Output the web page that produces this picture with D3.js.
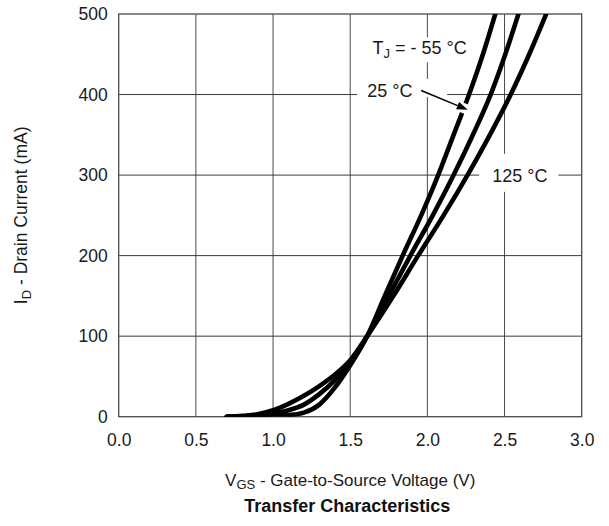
<!DOCTYPE html>
<html>
<head>
<meta charset="utf-8">
<script src="https://cdn.jsdelivr.net/npm/d3@7/dist/d3.min.js"></script>
<style>
  html, body { margin: 0; padding: 0; background: #fff; }
  svg { display: block; font-family: "Liberation Sans", Arial, Helvetica, sans-serif; }
</style>
</head>
<body>
<svg id="chart" width="609" height="526"></svg>
<script>
// Axis ticks
const xTicks = [0.0, 0.5, 1.0, 1.5, 2.0, 2.5, 3.0];
const yTicks = [0, 100, 200, 300, 400, 500];

// Transfer curves: gate-source voltage (V) vs drain current (mA)
const vgsM55 = [0.70, 0.80, 0.90, 1.00, 1.10, 1.20, 1.30, 1.40, 1.50, 1.61, 1.72, 1.84, 1.96, 2.07, 2.17, 2.27, 2.36, 2.44];
const idM55  = [0, 0, 0.5, 1, 2, 5, 15, 36, 64, 100, 148, 200, 250, 300, 350, 400, 450, 500];

const vgs25 = [0.70, 0.80, 0.90, 1.00, 1.10, 1.20, 1.30, 1.40, 1.50, 1.61, 1.75, 1.89, 2.035, 2.17, 2.295, 2.41, 2.505, 2.59];
const id25  = [0, 0.5, 1.5, 4, 8, 15, 28, 45, 68, 100, 150, 200, 250, 300, 350, 400, 450, 500];

const vgs125 = [0.70, 0.80, 0.90, 1.00, 1.10, 1.20, 1.30, 1.40, 1.50, 1.61, 1.78, 1.94, 2.105, 2.26, 2.405, 2.54, 2.66, 2.77];
const id125  = [0, 1, 3, 8, 16, 26, 38, 52, 70, 100, 150, 200, 250, 300, 350, 400, 450, 500];

// Curve labels, anchored in data units [V, mA]
const labelTj   = { pos: [1.645, 450], sub: "J" };
const label25   = { text: "25 °C", pos: [1.61, 400] };
const label125  = { text: "125 °C", pos: [2.42, 292] };
const arrow25   = [[1.96, 405], [2.262, 381]];

const svg = d3.select("#chart");
const W = 609, H = 526;
const margin = { left: 118.7, right: W - 581.7, top: 14, bottom: H - 416.7 };

const x = d3.scaleLinear().domain([0, 3]).range([margin.left, W - margin.right]);
const y = d3.scaleLinear().domain([0, 500]).range([H - margin.bottom, margin.top]);

const textColor = "#1a1a1a";
const gridColor = "#3a3a3a";

// Grid
const grid = svg.append("g");
grid.selectAll("line.v").data(xTicks.filter(d => d > 0 && d < 3)).join("line")
  .attr("x1", d => x(d)).attr("x2", d => x(d))
  .attr("y1", y(500)).attr("y2", y(0))
  .attr("stroke", "#4a4a4a").attr("stroke-width", 1);
grid.selectAll("line.h").data(yTicks.filter(d => d > 0 && d < 500)).join("line")
  .attr("x1", x(0)).attr("x2", x(3))
  .attr("y1", d => y(d)).attr("y2", d => y(d))
  .attr("stroke", gridColor).attr("stroke-width", 1);

// Frame
svg.append("rect")
  .attr("x", x(0)).attr("y", y(500))
  .attr("width", x(3) - x(0)).attr("height", y(0) - y(500))
  .attr("fill", "none").attr("stroke", "#4a4a4a").attr("stroke-width", 1.3);

// Axes (labels only)
const fmtX = d3.format(".1f");
const xAxis = svg.append("g").attr("transform", `translate(0,${y(0)})`)
  .call(d3.axisBottom(x).tickValues(xTicks).tickFormat(fmtX).tickSize(0).tickPadding(17));
const yAxis = svg.append("g").attr("transform", `translate(${x(0)},0)`)
  .call(d3.axisLeft(y).tickValues(yTicks).tickFormat(d3.format("d")).tickSize(0).tickPadding(11));
[xAxis, yAxis].forEach(a => {
  a.select(".domain").remove();
  a.selectAll("text").attr("font-size", 17.5).attr("fill", textColor)
    .attr("font-family", "'Liberation Sans', Arial, sans-serif");
});

// Labels
const labels = svg.append("g");

const series = [
  { v: vgsM55, i: idM55 },
  { v: vgs25, i: id25 },
  { v: vgs125, i: id125 }
];

svg.append("clipPath").attr("id", "plotClip")
  .append("rect").attr("x", x(0)).attr("y", y(500))
  .attr("width", x(3) - x(0)).attr("height", y(0) - y(500));

const line = d3.line().x(d => x(d[0])).y(d => y(d[1])).curve(d3.curveMonotoneX);

// T_J label
const tj = labels.append("text")
  .attr("x", x(labelTj.pos[0])).attr("y", y(labelTj.pos[1]))
  .attr("font-size", 18).attr("fill", textColor);
tj.append("tspan").text("T");
tj.append("tspan").attr("font-size", 13).attr("dy", 4).text(labelTj.sub);
tj.append("tspan").attr("dy", -4).text(" = - 55 °C");

// 25 °C label
const t25 = labels.append("text")
  .attr("x", x(label25.pos[0])).attr("y", y(label25.pos[1]) + 2.4)
  .attr("font-size", 18).attr("fill", textColor).text(label25.text);

// 125 °C label
const t125 = labels.append("text")
  .attr("x", x(label125.pos[0])).attr("y", y(label125.pos[1]) + 0.3)
  .attr("font-size", 18).attr("fill", textColor).text(label125.text);

// White cut-outs in the grid behind the labels
{
  const b = tj.node().getBBox();
  labels.insert("rect", "text").attr("x", b.x - 5).attr("y", b.y - 1)
    .attr("width", b.width + 10).attr("height", b.height + 2).attr("fill", "#fff");
  const b2 = t25.node().getBBox();
  labels.insert("rect", "text").attr("x", b2.x - 10).attr("y", b2.y - 2)
    .attr("width", x(arrow25[0][0]) + 26 - (b2.x - 10)).attr("height", b2.height - 2).attr("fill", "#fff");
  const b3 = t125.node().getBBox();
  labels.insert("rect", "text").attr("x", b3.x - 13).attr("y", b3.y - 12)
    .attr("width", b3.width + 24).attr("height", b3.height + 18).attr("fill", "#fff");
}

// Curves drawn above the label cut-outs
svg.append("g").attr("clip-path", "url(#plotClip)")
  .selectAll("path").data(series).join("path")
  .attr("d", s => line(s.v.map((v, k) => [v, s.i[k]])))
  .attr("fill", "none").attr("stroke", "#000")
  .attr("stroke-width", 4.6).attr("stroke-linejoin", "round").attr("stroke-linecap", "round");

// Arrow pointing at the 25 °C curve, with a white halo where it crosses
const [a0, a1] = arrow25.map(p => [x(p[0]), y(p[1])]);
const ang = Math.atan2(a1[1] - a0[1], a1[0] - a0[0]);
const haloStart = [a1[0] - 22 * Math.cos(ang), a1[1] - 22 * Math.sin(ang)];
svg.append("line")
  .attr("x1", haloStart[0]).attr("y1", haloStart[1])
  .attr("x2", a1[0] + 2 * Math.cos(ang)).attr("y2", a1[1] + 2 * Math.sin(ang))
  .attr("stroke", "#fff").attr("stroke-width", 10);
const headLen = 11, headW = 4;
const base = [a1[0] - headLen * Math.cos(ang), a1[1] - headLen * Math.sin(ang)];
svg.append("line")
  .attr("x1", a0[0]).attr("y1", a0[1]).attr("x2", base[0]).attr("y2", base[1])
  .attr("stroke", "#000").attr("stroke-width", 1.6);
svg.append("path")
  .attr("d", d3.line()([
    a1,
    [base[0] + headW * Math.sin(ang), base[1] - headW * Math.cos(ang)],
    [base[0] - headW * Math.sin(ang), base[1] + headW * Math.cos(ang)]
  ]) + "Z")
  .attr("fill", "#000");

// Axis titles
const xt = svg.append("text")
  .attr("x", (x(0) + x(3)) / 2).attr("y", 486)
  .attr("text-anchor", "middle").attr("font-size", 17).attr("fill", textColor);
xt.append("tspan").text("V");
xt.append("tspan").attr("font-size", 13).attr("dy", 3).text("GS");
xt.append("tspan").attr("dy", -3).text(" - Gate-to-Source Voltage (V)");

const yt = svg.append("text")
  .attr("transform", `translate(27,${(y(0) + y(500)) / 2}) rotate(-90)`)
  .attr("text-anchor", "middle").attr("font-size", 17.5).attr("fill", textColor);
yt.append("tspan").text("I");
yt.append("tspan").attr("font-size", 13).attr("dy", 4).text("D");
yt.append("tspan").attr("dy", -4).text(" - Drain Current (mA)");

svg.append("text")
  .attr("x", (x(0) + x(3)) / 2 - 3).attr("y", 512)
  .attr("text-anchor", "middle").attr("font-size", 18).attr("font-weight", "bold")
  .attr("fill", "#111").text("Transfer Characteristics");
</script>
</body>
</html>
